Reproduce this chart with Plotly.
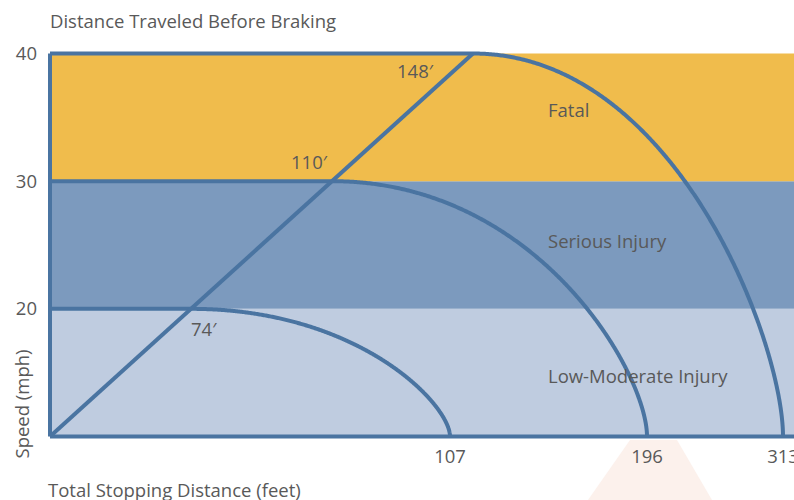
import numpy as np
import plotly.graph_objects as go

# ---------------- data ----------------
SPEEDS_MPH = [20, 30, 40]                 # speed levels
BEFORE_BRAKING_FT = [74, 110, 148]        # distance traveled before braking
STOPPING_FT = [107, 196, 313]             # total stopping distance
ZONE_NAMES = ["Low-Moderate Injury", "Serious Injury", "Fatal"]
ZONE_LOW = [10, 20, 30]
ZONE_HIGH = [20, 30, 40]
Y_TICKS = [20, 30, 40]

# ---------------- schematic scale (illustration is not to scale) ----------------
SCALE_FT = [0] + STOPPING_FT               # anchor distances
SCALE_UNITS = [0, 400, 597, 733]           # display units for those anchors
DIAG_TOP = 423                             # diagonal reaches top speed here
X_MAX = 744
Y_BASE, Y_TOP = 10, 40


def xmap(ft):
    return float(np.interp(ft, SCALE_FT, SCALE_UNITS))


def diag_x(speed):
    return DIAG_TOP * (speed - Y_BASE) / (Y_TOP - Y_BASE)


LINE = "#4A74A1"
TEXT = "#595959"
ZONE_COLORS = ["#BFCCE0", "#7C9ABE", "#F0BC4C"]
FONT = "Open Sans"
FS = 18.5

fig = go.Figure()

# bands
for lo, hi, col in zip(ZONE_LOW, ZONE_HIGH, ZONE_COLORS):
    fig.add_shape(type="rect", xref="x", yref="y", x0=0, x1=X_MAX + 20, y0=lo, y1=hi,
                  fillcolor=col, line_width=0, layer="below")

# faint decorative wedge under the axis
L, W, T, H = 47, 747, 51, 388
def px(xp):
    return (xp - L) / W
def py(yp):
    return (T + H - yp) / H
fig.add_shape(type="path", xref="paper", yref="paper", layer="below",
              path=f"M {px(630)} {py(440)} L {px(677)} {py(440)} L {px(712)} {py(500)} L {px(588)} {py(500)} Z",
              fillcolor="#FCF1EC", line_width=0)

# braking curves (horizontal run + braking arc)
a, b = 0.65, 0.25
t = np.linspace(0, 1, 400)
for spd, stop in zip(SPEEDS_MPH, STOPPING_FT):
    x0 = diag_x(spd)
    x1 = xmap(stop)
    bx = 3 * (1 - t) ** 2 * t * a + 3 * (1 - t) * t ** 2 + t ** 3
    by = (1 - t) ** 3 + 3 * (1 - t) ** 2 * t + 3 * (1 - t) * t ** 2 * b
    xs = [0] + list(x0 + (x1 - x0) * bx)
    ys = [spd] + list(Y_BASE + (spd - Y_BASE) * by)
    fig.add_trace(go.Scatter(x=xs, y=ys, mode="lines", hoverinfo="skip",
                             line=dict(color=LINE, width=4, shape="linear", simplify=False),
                             showlegend=False))

# diagonal (distance before braking)
fig.add_trace(go.Scatter(x=[0, diag_x(Y_TOP)], y=[Y_BASE, Y_TOP], mode="lines",
                         line=dict(color=LINE, width=4), hoverinfo="skip", showlegend=False))

# axis lines
fig.add_shape(type="line", xref="x", yref="y", x0=0, x1=0, y0=Y_BASE, y1=Y_TOP,
              line=dict(color=LINE, width=4))
fig.add_shape(type="line", xref="x", yref="y", x0=0, x1=X_MAX + 20, y0=Y_BASE, y1=Y_BASE,
              line=dict(color=LINE, width=4))

# before-braking labels
lab_cfg = {20: dict(xanchor="left", yanchor="top", xshift=-2, yshift=-5),
           30: dict(xanchor="right", yanchor="bottom", xshift=-2, yshift=5),
           40: dict(xanchor="right", yanchor="top", xshift=-37, yshift=-2)}
for spd, d in zip(SPEEDS_MPH, BEFORE_BRAKING_FT):
    fig.add_annotation(x=diag_x(spd), y=spd, text=f"{d}\u2032", showarrow=False,
                       font=dict(family=FONT, size=FS, color=TEXT), **lab_cfg[spd])

# zone labels
for name, lo, hi in zip(ZONE_NAMES, ZONE_LOW, ZONE_HIGH):
    fig.add_annotation(x=496, y=(lo + hi) / 2 + (-0.25 if lo == 10 else (0.35 if lo == 20 else 0.6)),
                       text=name, showarrow=False, xanchor="left", yanchor="middle",
                       font=dict(family=FONT, size=FS, color=TEXT))

# titles
fig.add_annotation(xref="paper", yref="paper", x=px(48), y=py(20), text="Distance Traveled Before Braking",
                   showarrow=False, xanchor="left", yanchor="middle",
                   font=dict(family=FONT, size=FS, color=TEXT))
fig.add_annotation(xref="paper", yref="paper", x=px(46), y=py(489), text="Total Stopping Distance (feet)",
                   showarrow=False, xanchor="left", yanchor="middle",
                   font=dict(family=FONT, size=FS, color=TEXT))
fig.add_annotation(xref="paper", yref="paper", x=px(21), y=py(461), text="Speed (mph)",
                   showarrow=False, textangle=-90, xanchor="center", yanchor="bottom",
                   font=dict(family=FONT, size=FS, color=TEXT))

fig.update_layout(
    width=794, height=500,
    margin=dict(l=L, r=0, t=T, b=500 - T - H, pad=0, autoexpand=False),
    paper_bgcolor="white", plot_bgcolor="white",
    xaxis=dict(range=[-3, X_MAX], showgrid=False, zeroline=False, showline=False,
               automargin=False,
               tickvals=[xmap(s) for s in STOPPING_FT], ticktext=[str(s) for s in STOPPING_FT],
               ticks="", ticklabelstandoff=4, ticklabeloverflow="allow",
               tickfont=dict(family=FONT, size=FS, color=TEXT), fixedrange=True),
    yaxis=dict(range=[Y_BASE - 2.5 * 30 / 383, Y_TOP + 2.5 * 30 / 383], showgrid=False,
               automargin=False,
               zeroline=False, showline=False, tickvals=Y_TICKS, ticks="",
               ticklabelstandoff=9, tickfont=dict(family=FONT, size=FS, color=TEXT),
               fixedrange=True),
    showlegend=False,
)

fig.write_html("out.html", config={"displayModeBar": False, "staticPlot": True},
               post_script="document.body.style.margin='0';document.body.style.overflow='hidden';")
